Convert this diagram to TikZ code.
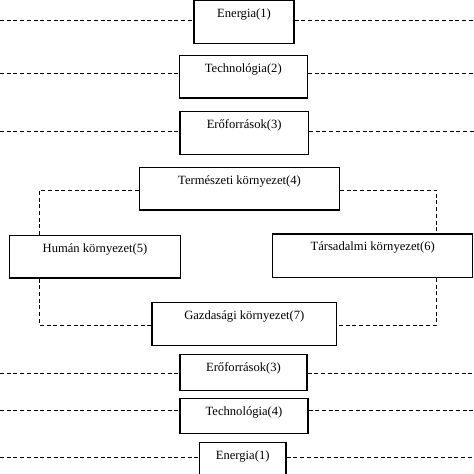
\documentclass[tikz,border=0pt]{standalone}
\usepackage{fontspec}
\setmainfont{Liberation Serif}

\begin{document}
\begin{tikzpicture}[x=1pt, y=-1pt,
    box/.style={draw, line width=1.3pt, inner xsep=0pt, inner ysep=0pt, anchor=north,
      font=\fontsize{12.6}{15}\selectfont, text height=17pt, text depth=#1},
    link/.style={dash pattern=on 4pt off 2.7pt, line width=1pt}]
  \clip (0,0) rectangle (474,474);
  % Upper column
  \node[box=25.7, minimum width=100] (en1) at (244,0) {Energia(1)};
  \node[box=25.6, minimum width=128] (tech2) at (243.3,54.7) {Technológia(2)};
  \node[box=25.7, minimum width=128.3] (ero3) at (244.2,111) {Erőforrások(3)};
  % Environments
  \node[box=25.3, minimum width=199.6] (term4) at (239.5,167) {Természeti környezet(4)};
  \node[box=25.6, minimum width=171.4] (hum5) at (95,234.7) {Humán környezet(5)};
  \node[box=26.4, minimum width=200] (tars6) at (372.7,233.3) {Társadalmi környezet(6)};
  \node[box=26, minimum width=184.7] (gazd7) at (244.3,302) {Gazdasági környezet(7)};
  % Lower column
  \node[box=19, minimum width=127] (ero3b) at (243.5,354) {Erőforrások(3)};
  \node[box=18, minimum width=128] (tech4) at (244,397.7) {Technológia(4)};
  \node[box=17, minimum width=86.7] (en1b) at (242.7,442) {Energia(1)};
  % Free ends of the side lines
  \coordinate (l1) at (0,20);    \coordinate (r1) at (474,20);
  \coordinate (l2) at (0,73);    \coordinate (r2) at (474,73);
  \coordinate (l3) at (0,131);   \coordinate (r3) at (474,131);
  \coordinate (l8) at (0,373);   \coordinate (r8) at (474,373);
  \coordinate (l9) at (0,410);   \coordinate (r9) at (474,410);
  \coordinate (l10) at (0,457);  \coordinate (r10) at (474,457);
  % Side lines
  \draw[link] (l1) -- (en1.west |- l1);
  \draw[link] (en1.east |- r1) -- (r1);
  \draw[link] (l2) -- (tech2.west |- l2);
  \draw[link] (tech2.east |- r2) -- (r2);
  \draw[link] (l3) -- (ero3.west |- l3);
  \draw[link] (ero3.east |- r3) -- (r3);
  \draw[link] (l8) -- (ero3b.west |- l8);
  \draw[link] (ero3b.east |- r8) -- (r8);
  \draw[link] (l9) -- (tech4.west |- l9);
  \draw[link] (tech4.east |- r9) -- (r9);
  \draw[link] (l10) -- (en1b.west |- l10);
  \draw[link] (en1b.east |- r10) -- (r10);
  % Corners of the loop
  \coordinate (c4l) at (39.5,190);  \coordinate (c4r) at (436.7,190);
  \coordinate (c7l) at (39.5,325);  \coordinate (c7r) at (436.7,325);
  % Loop round the environments
  \draw[link] (term4.west |- c4l) -- (c4l) -- (hum5.north -| c4l);
  \draw[link] (term4.east |- c4r) -- (c4r) -- (tars6.north -| c4r);
  \draw[link] (hum5.south -| c7l) -- (c7l) -- (gazd7.west |- c7l);
  \draw[link] (tars6.south -| c7r) -- (c7r) -- (gazd7.east |- c7r);
\end{tikzpicture}
\end{document}
